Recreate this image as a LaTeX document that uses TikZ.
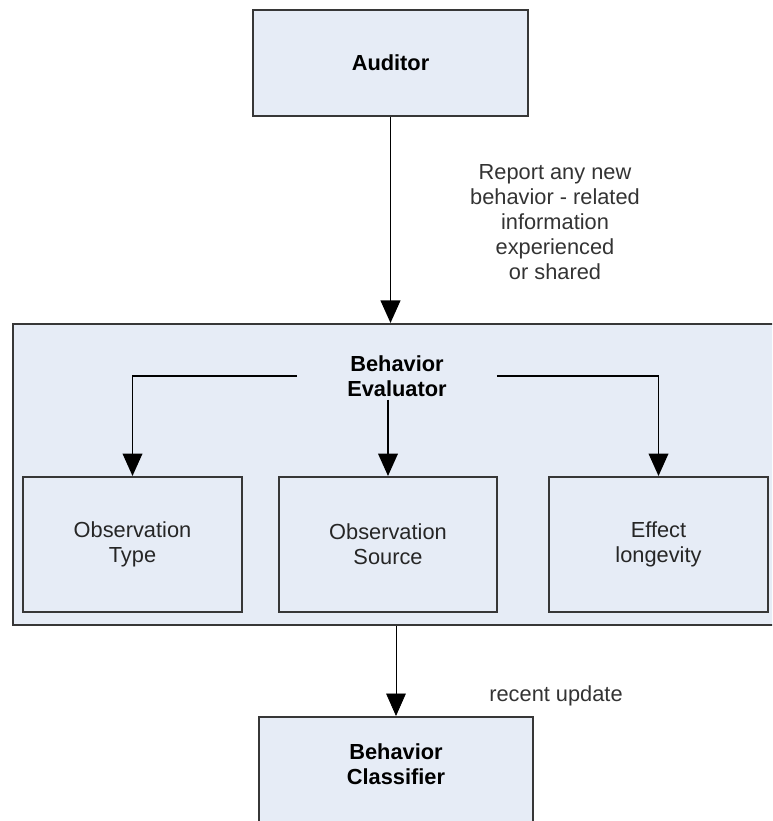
\documentclass[tikz,border=0pt]{standalone}
\usepackage{fontspec}
\setmainfont{Liberation Sans}
\usetikzlibrary{arrows.meta,positioning}

\definecolor{boxfill}{RGB}{230,236,246}
\definecolor{boxline}{RGB}{55,55,55}

\tikzset{
    box/.style={draw=boxline, line width=1.4pt, fill=boxfill, align=center,
        text=black!85, font=\fontsize{15.5}{17.9}\selectfont},
    boldbox/.style={box, font=\fontsize{15.5}{17.9}\selectfont\bfseries, text=black},
    heading/.style={align=center, inner ysep=2pt, font=\fontsize{15.5}{17.9}\selectfont\bfseries},
    note/.style={align=center, text=black!80, font=\fontsize{15.5}{17.9}\selectfont},
    arr/.style={line width=1.3pt, -{Triangle[width=14pt,length=16pt]}}
}

\begin{document}
\begin{tikzpicture}[x=0.025cm,y=-0.025cm]
    \clip (0,0) rectangle (772,821);

    % Auditor
    \node[boldbox, minimum width=6.875cm, minimum height=2.65cm] (auditor) at (390.5,63) {Auditor};

    % Behavior Evaluator (runs off the right edge)
    \node[box, minimum width=19.425cm, minimum height=7.525cm] (evaluator) at (401.5,474.5) {};
    \node[heading, minimum width=4.975cm] (evalhead) at (397,376) {Behavior\\Evaluator};

    % Three criteria
    \node[box, minimum width=5.475cm, minimum height=3.375cm] (obstype) at (132.5,544.5) {Observation\\Type};
    \node[box, minimum width=5.45cm, minimum height=3.375cm] (obssource) at (388,544.5) {Observation\\Source};
    \node[box, minimum width=5.475cm, minimum height=3.375cm] (effect) at (658.5,544.5) {Effect\\longevity};

    % Behavior Classifier (runs off the bottom edge)
    \node[box, minimum width=6.85cm, minimum height=3.325cm] (classifier) at (396,783.5) {};
    \node[heading, below=1.2cm of classifier.north, anchor=center] (classhead) {Behavior\\Classifier};

    % Arrows
    \draw[arr] (auditor.south) -- (auditor.south |- evaluator.north);
    \draw[arr] (evalhead.west) -| (obstype.north);
    \draw[arr] (evalhead.south -| obssource.north) -- (obssource.north);
    \draw[arr] (evalhead.east) -| (effect.north);
    \draw[arr, line width=0.6pt] (evaluator.south -| classifier.north) -- (classifier.north);

    % Arrow labels
    \node[note] (reportnote) at (555,222) {Report any new\\behavior - related\\information\\experienced\\or shared};
    \node[note] (updatenote) at (556,696) {recent update};
\end{tikzpicture}
\end{document}
